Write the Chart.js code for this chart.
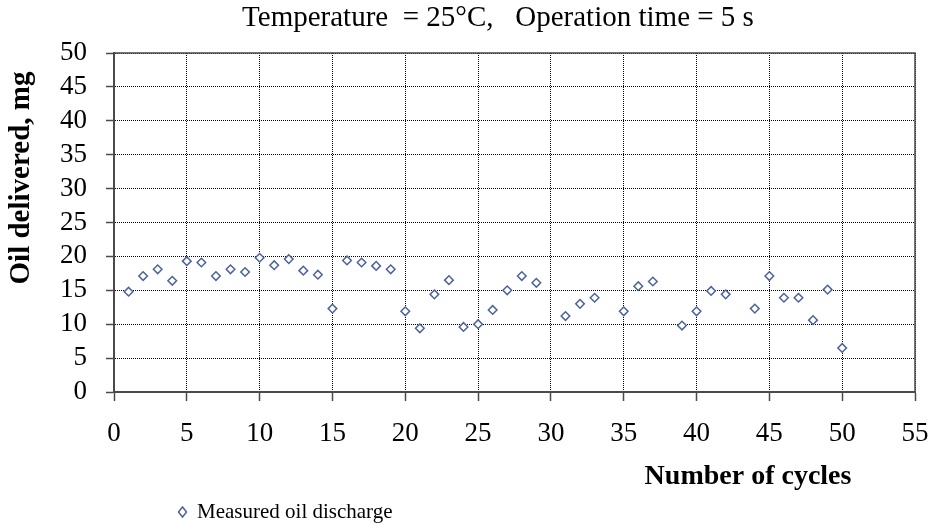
<!DOCTYPE html>
<html>
<head>
<meta charset="utf-8">
<script src="https://cdn.jsdelivr.net/npm/chart.js@4"></script>
<style>
  html, body { margin: 0; padding: 0; background: #fff; }
</style>
</head>
<body>
<canvas id="oilChart" width="934" height="524"></canvas>
<script>
// cycle number and oil delivered per cycle (mg); cycles 30, 34, 38, 43 have no point
const cycles = [1, 2, 3, 4, 5, 6, 7, 8, 9, 10,
  11, 12, 13, 14, 15, 16, 17, 18, 19, 20,
  21, 22, 23, 24, 25, 26, 27, 28, 29,
  31, 32, 33, 35, 36, 37, 39, 40, 41, 42,
  44, 45, 46, 47, 48, 49, 50];
const oilMg = [14.8, 17.1, 18.1, 16.4, 19.3, 19.1, 17.1, 18.1, 17.7, 19.8,
  18.7, 19.6, 17.9, 17.3, 12.3, 19.4, 19.1, 18.6, 18.1, 11.9,
  9.4, 14.4, 16.5, 9.6, 10.0, 12.1, 15.0, 17.1, 16.1,
  11.2, 13.0, 13.9, 11.9, 15.6, 16.3, 9.8, 11.9, 14.9, 14.4,
  12.3, 17.1, 13.9, 13.9, 10.6, 15.1, 6.5];
const xTickValues = [0, 5, 10, 15, 20, 25, 30, 35, 40, 45, 50, 55];
const yTickValues = [0, 5, 10, 15, 20, 25, 30, 35, 40, 45, 50];

const seriesName = 'Measured oil discharge';
const chartTitle = 'Temperature  = 25\u00B0C,   Operation time = 5 s';
const xTitle = 'Number of cycles';
const yTitle = 'Oil delivered, mg';

const serif = "'Liberation Serif', 'Times New Roman', serif";
const axisColor = '#4a4a4a';

// titles sit off-centre in the original, so they are drawn by hand
const chartText = {
  id: 'chartText',
  afterLayout(chart) {
    // legend sits a bit right of the plot's left edge
    chart.legend.left += 54.5;
    chart.legend.right += 54.5;
  },
  beforeDatasetsDraw(chart) {
    const {ctx, chartArea: a} = chart;
    ctx.save();
    ctx.strokeStyle = axisColor;
    ctx.lineWidth = 1.5;
    ctx.beginPath();
    ctx.moveTo(a.left, a.top);
    ctx.lineTo(a.right, a.top);
    ctx.lineTo(a.right, a.bottom);
    ctx.stroke();
    ctx.restore();
  },
  afterDraw(chart) {
    const ctx = chart.ctx;
    ctx.save();
    ctx.fillStyle = '#000';
    ctx.textAlign = 'center';
    ctx.textBaseline = 'middle';
    ctx.font = '29px ' + serif;
    ctx.fillText(chartTitle, 498, 18);
    ctx.font = 'bold 28px ' + serif;
    ctx.fillText(xTitle, 748, 477);
    ctx.translate(22, 178);
    ctx.rotate(-Math.PI / 2);
    ctx.font = 'bold 29px ' + serif;
    ctx.fillText(yTitle, 0, 0);
    ctx.restore();
  }
};

new Chart(document.getElementById('oilChart'), {
  type: 'scatter',
  data: {
    datasets: [{
      label: seriesName,
      data: cycles.map((c, i) => ({x: c, y: oilMg[i]})),
      pointStyle: 'rectRot',
      pointRadius: 4.3,
      pointHoverRadius: 4.3,
      borderWidth: 1.5,
      borderColor: '#4d6399',
      backgroundColor: '#ffffff'
    }]
  },
  options: {
    responsive: false,
    animation: false,
    devicePixelRatio: 1,
    layout: { padding: { top: 53, right: 19, bottom: -8.5, left: 0 } },
    plugins: {
      title: { display: false },
      tooltip: { enabled: false },
      legend: {
        position: 'bottom',
        align: 'start',
        fullSize: false,
        labels: {
          usePointStyle: true,
          pointStyleWidth: 8,
          boxHeight: 7,
          padding: 10,
          color: '#000',
          font: { family: serif, size: 21 }
        }
      }
    },
    scales: {
      x: {
        type: 'linear',
        min: 0,
        max: 55,
        afterBuildTicks: s => { s.ticks = xTickValues.map(v => ({value: v})); },
        afterFit: s => { s.height = 99.5; s.paddingLeft = 0; s.paddingRight = 0; },
        ticks: { color: '#000', padding: 17, maxRotation: 0, autoSkip: false, font: { family: serif, size: 27 } },
        grid: { color: '#000', lineWidth: 1, tickLength: 9, tickColor: axisColor, tickWidth: 1.5 },
        border: { color: axisColor, width: 2, dash: [1, 1] }
      },
      y: {
        min: 0,
        max: 50,
        afterBuildTicks: s => { s.ticks = yTickValues.map(v => ({value: v})); },
        afterFit: s => { s.width = 114; s.paddingTop = 0; s.paddingBottom = 0; },
        ticks: { color: '#000', padding: 19, autoSkip: false, font: { family: serif, size: 27 } },
        grid: { color: '#000', lineWidth: 1, tickLength: 8, tickColor: axisColor, tickWidth: 1.5 },
        border: { color: axisColor, width: 2, dash: [1, 1] }
      }
    }
  },
  plugins: [chartText]
});
</script>
</body>
</html>
